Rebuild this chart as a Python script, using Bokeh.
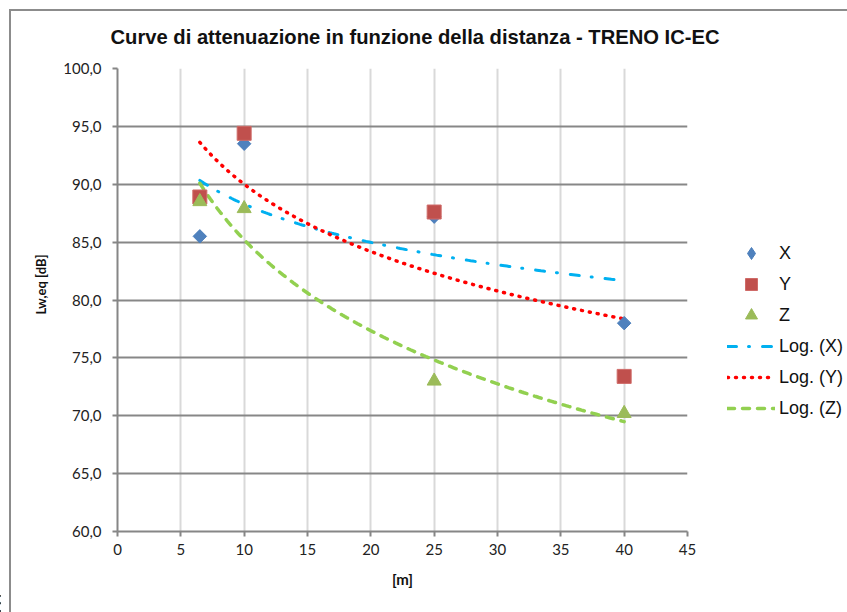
import numpy as np
from bokeh.plotting import figure
from bokeh.layouts import row
from bokeh.models import (Range1d, FixedTicker, Legend, LegendItem, Title,
                          InlineStyleSheet)
from bokeh.embed import file_html
from bokeh.resources import INLINE

# ---------------- data ----------------
title_text = "Curve di attenuazione in funzione della distanza - TRENO IC-EC"
x_label = "[m]"
y_label = "Lw,eq [dB]"
distance = [6.5, 10, 25, 40]
series_x = [85.5, 93.5, 87.2, 78.0]
series_y = [88.9, 94.4, 87.6, 73.4]
series_z = [88.5, 87.9, 73.0, 70.2]
x_ticks = [0, 5, 10, 15, 20, 25, 30, 35, 40, 45]
y_ticks = [60, 65, 70, 75, 80, 85, 90, 95, 100]
y_tick_labels = ["60,0", "65,0", "70,0", "75,0", "80,0", "85,0", "90,0", "95,0", "100,0"]
legend_labels = ["X", "Y", "Z", "Log. (X)", "Log. (Y)", "Log. (Z)"]

# ---------------- styles ----------------
marker_styles = [
    dict(marker="square", angle=np.pi / 4, size=9.5, fill_color="#4F81BD", line_color="#4A7EBB"),
    dict(marker="square", size=14, fill_color="#C0504D", line_color="#CF6B68"),
    dict(marker="triangle", size=14, fill_color="#9BBB59", line_color="#9BBB59"),
]
legend_marker_styles = [
    dict(marker="diamond", fill_color="#4F81BD", line_color="#4A7EBB"),
    dict(marker="square", fill_color="#C0504D", line_color="#CF6B68"),
    dict(marker="triangle", fill_color="#9BBB59", line_color="#9BBB59"),
]
line_styles = [
    dict(line_color="#00B0F0", line_width=3, line_dash="9 12 1 13", line_cap="round"),
    dict(line_color="#FF0000", line_width=3.5, line_dash="1 7", line_cap="round"),
    dict(line_color="#92D050", line_width=3.5, line_dash="7 8", line_cap="round"),
]

# ---------------- layout ----------------
W, H = 847, 612
MAIN_W = 722                          # main figure; legend strip to its right
FL, FR, FT, FB = 117, 687, 68, 531    # frame edges in canvas px
X0, X1, Y0, Y1 = 0, 45, 60, 100

p = figure(width=MAIN_W, height=H, output_backend="svg", toolbar_location=None,
           x_range=Range1d(X0, X1), y_range=Range1d(Y0, Y1),
           min_border_left=FL, min_border_right=MAIN_W - FR,
           min_border_top=FT, min_border_bottom=H - FB)
p.outline_line_color = None
p.background_fill_color = "white"
p.border_fill_color = "white"

# title
p.title.text = title_text
p.title.align = "left"
p.title.offset = -7
p.title.standoff = 42
p.title.text_font = "Liberation Sans"
p.title.text_font_style = "bold"
p.title.text_font_size = "20.2px"
p.title.text_color = "#111111"

TICK_FONT = "Lato"
p.xaxis.ticker = FixedTicker(ticks=x_ticks)
p.yaxis.ticker = FixedTicker(ticks=y_ticks)
p.yaxis.major_label_overrides = {t: l for t, l in zip(y_ticks, y_tick_labels)}
for ax in (p.xaxis[0], p.yaxis[0]):
    ax.axis_line_color = "#868686"
    ax.axis_line_width = 2
    ax.major_tick_line_color = "#868686"
    ax.major_tick_line_width = 2
    ax.major_tick_in = 0
    ax.major_tick_out = 5
    ax.minor_tick_line_color = None
    ax.major_label_text_font = TICK_FONT
    ax.major_label_text_font_size = "15px"
    ax.major_label_text_color = "#222222"
p.yaxis.major_label_standoff = 11
p.xaxis.major_label_standoff = 7

p.xaxis.axis_label = x_label
p.xaxis.axis_label_text_font = TICK_FONT
p.xaxis.axis_label_text_font_style = "bold"
p.xaxis.axis_label_text_font_size = "15px"
p.xaxis.axis_label_text_color = "#111111"
p.xaxis.axis_label_standoff = 12

# y axis title as a side title (Excel places it slightly above the frame centre)
p.add_layout(Title(text=y_label, align="left", offset=217, standoff=24,
                   text_font=TICK_FONT, text_font_style="bold",
                   text_font_size="13px", text_color="#111111"), "left")

p.ygrid.grid_line_color = "#878787"
p.ygrid.grid_line_width = 2
p.xgrid.grid_line_color = "#D9D9D9"
p.xgrid.grid_line_width = 2

# logarithmic trendlines (least-squares fit y = a ln x + b, as Excel does)
xs = np.linspace(min(distance), max(distance), 200)
def log_fit(vals):
    a, b = np.polyfit(np.log(distance), vals, 1)
    return a * np.log(xs) + b

series = [series_x, series_y, series_z]
for vals, st in zip(series, line_styles):
    p.line(xs, log_fit(vals), **st)
for vals, st in zip(series, marker_styles):
    p.scatter(distance, vals, **st)

# ---------------- legend strip ----------------
LW = W - MAIN_W
q = figure(width=LW, height=H, output_backend="svg", toolbar_location=None,
           x_range=Range1d(0, 1), y_range=Range1d(0, 1),
           x_axis_location=None, y_axis_location=None,
           min_border_left=0, min_border_right=0, min_border_top=0,
           min_border_bottom=0, title=None)
q.grid.visible = False
q.outline_line_color = None
q.background_fill_color = "white"
q.border_fill_color = "white"

# key glyphs: one off-screen sample each, so the legend can draw its swatch
off = [-10]
key_renderers = [q.scatter(off, off, **st) for st in legend_marker_styles] + \
                [q.line(off * 2, off * 2, **st) for st in line_styles]

GH, SP = 30, 1
n = len(legend_labels)
leg_h = n * GH + (n - 1) * SP
leg_top = 253 - GH / 2
legend = Legend(items=[LegendItem(label=l, renderers=[r]) for l, r in
                       zip(legend_labels, key_renderers)],
                location=(727 - MAIN_W, FB - (leg_top + leg_h)),
                glyph_width=48, glyph_height=GH, label_height=GH, spacing=SP,
                padding=0, margin=0, label_standoff=4,
                label_text_font="Liberation Sans", label_text_font_size="18px",
                label_text_color="#111111",
                border_line_color=None, background_fill_alpha=0)
q.add_layout(legend)

# outer chart border (only its left and top edges are inside the picture)
p.stylesheets = [InlineStyleSheet(css="""
:host { position: relative; }
:host::after { content: ''; position: absolute; left: 9px; top: 9px;
  width: calc(100% - 9px); height: calc(100% - 9px); box-sizing: border-box;
  border-left: 2px solid #8C8C8C; border-top: 2px solid #8C8C8C;
  pointer-events: none; }
:host::before { content: '8'; position: absolute; left: -5px; top: 592px;
  width: 16px; height: 20px; overflow: hidden;
  font-family: 'Liberation Sans'; font-size: 24px; line-height: 24px;
  color: #000; pointer-events: none; }
""")]
q.stylesheets = [InlineStyleSheet(css="""
:host { position: relative; }
:host::after { content: ''; position: absolute; left: 0; top: 9px;
  width: 100%; height: 0; border-top: 2px solid #8C8C8C;
  pointer-events: none; }
""")]

layout = row(p, q)
open("out.html", "w").write(file_html(layout, INLINE))
